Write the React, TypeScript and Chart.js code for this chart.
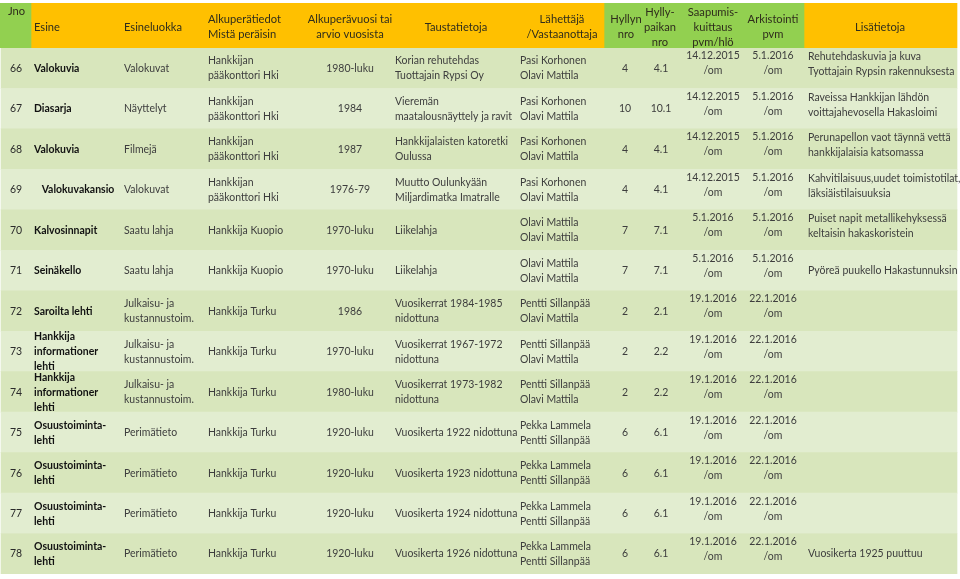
import React, { useEffect, useRef } from 'react';
import { Chart, registerables } from 'chart.js';

Chart.register(...registerables);

// ---------------- data ----------------
const headerLabels = [
  'Jno', 'Esine', 'Esineluokka', 'Alkuperätiedot\nMistä peräisin', 'Alkuperävuosi tai\narvio vuosista',
  'Taustatietoja', 'Lähettäjä\n/Vastaanottaja', 'Hyllyn\nnro', 'Hylly-\npaikan\nnro',
  'Saapumis-\nkuittaus\npvm/hlö', 'Arkistointi\npvm', 'Lisätietoja',
];

const jno = ['66', '67', '68', '69', '70', '71', '72', '73', '74', '75', '76', '77', '78'];

const esine = [
  'Valokuvia', 'Diasarja', 'Valokuvia', '   Valokuvakansio', 'Kalvosinnapit', 'Seinäkello', 'Saroilta lehti',
  'Hankkija\ninformationer\nlehti', 'Hankkija\ninformationer\nlehti',
  'Osuustoiminta-\nlehti', 'Osuustoiminta-\nlehti', 'Osuustoiminta-\nlehti', 'Osuustoiminta-\nlehti',
];

const esineluokka = [
  'Valokuvat', 'Näyttelyt', 'Filmejä', 'Valokuvat', 'Saatu lahja', 'Saatu lahja',
  'Julkaisu- ja\nkustannustoim.', 'Julkaisu- ja\nkustannustoim.', 'Julkaisu- ja\nkustannustoim.',
  'Perimätieto', 'Perimätieto', 'Perimätieto', 'Perimätieto',
];

const alkuperatiedot = [
  'Hankkijan\npääkonttori Hki', 'Hankkijan\npääkonttori Hki', 'Hankkijan\npääkonttori Hki', 'Hankkijan\npääkonttori Hki',
  'Hankkija Kuopio', 'Hankkija Kuopio',
  'Hankkija Turku', 'Hankkija Turku', 'Hankkija Turku', 'Hankkija Turku', 'Hankkija Turku', 'Hankkija Turku', 'Hankkija Turku',
];

const alkuperavuosi = [
  '1980-luku', '1984', '1987', '1976-79', '1970-luku', '1970-luku', '1986', '1970-luku', '1980-luku',
  '1920-luku', '1920-luku', '1920-luku', '1920-luku',
];

const taustatietoja = [
  'Korian rehutehdas\nTuottajain Rypsi Oy', 'Vieremän\nmaatalousnäyttely ja ravit', 'Hankkijalaisten katoretki\nOulussa',
  'Muutto Oulunkyään\nMiljardimatka Imatralle', 'Liikelahja', 'Liikelahja',
  'Vuosikerrat 1984-1985\nnidottuna', 'Vuosikerrat 1967-1972\nnidottuna', 'Vuosikerrat 1973-1982\nnidottuna',
  'Vuosikerta 1922 nidottuna', 'Vuosikerta 1923 nidottuna', 'Vuosikerta 1924 nidottuna', 'Vuosikerta 1926 nidottuna',
];

const lahettaja = [
  'Pasi Korhonen\nOlavi Mattila', 'Pasi Korhonen\nOlavi Mattila', 'Pasi Korhonen\nOlavi Mattila', 'Pasi Korhonen\nOlavi Mattila',
  'Olavi Mattila\nOlavi Mattila', 'Olavi Mattila\nOlavi Mattila',
  'Pentti Sillanpää\nOlavi Mattila', 'Pentti Sillanpää\nOlavi Mattila', 'Pentti Sillanpää\nOlavi Mattila',
  'Pekka Lammela\nPentti Sillanpää', 'Pekka Lammela\nPentti Sillanpää', 'Pekka Lammela\nPentti Sillanpää', 'Pekka Lammela\nPentti Sillanpää',
];

const hyllynNro = ['4', '10', '4', '4', '7', '7', '2', '2', '2', '6', '6', '6', '6'];
const hyllypaikanNro = ['4.1', '10.1', '4.1', '4.1', '7.1', '7.1', '2.1', '2.2', '2.2', '6.1', '6.1', '6.1', '6.1'];

const saapumiskuittaus = [
  '14.12.2015\n/om', '14.12.2015\n/om', '14.12.2015\n/om', '14.12.2015\n/om',
  '5.1.2016\n/om', '5.1.2016\n/om',
  '19.1.2016\n/om', '19.1.2016\n/om', '19.1.2016\n/om', '19.1.2016\n/om', '19.1.2016\n/om', '19.1.2016\n/om', '19.1.2016\n/om',
];

const arkistointi = [
  '5.1.2016\n/om', '5.1.2016\n/om', '5.1.2016\n/om', '5.1.2016\n/om', '5.1.2016\n/om', '5.1.2016\n/om',
  '22.1.2016\n/om', '22.1.2016\n/om', '22.1.2016\n/om', '22.1.2016\n/om', '22.1.2016\n/om', '22.1.2016\n/om', '22.1.2016\n/om',
];

const lisatietoja = [
  'Rehutehdaskuvia ja kuva\nTyottajain Rypsin rakennuksesta',
  'Raveissa Hankkijan lähdön\nvoittajahevosella Hakasloimi',
  'Perunapellon vaot täynnä vettä\nhankkijalaisia katsomassa',
  'Kahvitilaisuus,uudet toimistotilat,\nläksiäistilaisuuksia',
  'Puiset napit metallikehyksessä\nkeltaisin hakaskoristein',
  'Pyöreä puukello Hakastunnuksin',
  '', '', '', '', '', '',
  'Vuosikerta 1925 puuttuu',
];

// ---------------- layout & style ----------------
const W = 960;
const H = 579;
const FONT = 'Lato, "Noto Sans", sans-serif';
const FS = 11.5;      // body font size
const SX = 0.91;      // horizontal squeeze (Calibri-like proportions)
const HFS = 12;       // header font size
const HSX = 0.93;
const LH = 15;
const HEAD_GREEN = '#92D050';
const HEAD_ORANGE = '#FFC000';
const BAND_DARK = '#D8E6BC';
const BAND_LIGHT = '#E2EDD0';
const TXT = '#3d3d3d';
const TXT_HEAD = '#2f2d1c';
const TXT_BOLD = '#111111';

// header fill segments [from, to, colour] in x-units
const HEAD_SEGMENTS: [number, number, string][] = [
  [0, 31, HEAD_GREEN],
  [31, 604, HEAD_ORANGE],
  [604, 804, HEAD_GREEN],
  [804, 957, HEAD_ORANGE],
];
const BODY_LEFT = 1;
const BODY_RIGHT = 957;

type Col = { values: string[]; x: number; align: CanvasTextAlign; bold?: boolean; color?: string; dy?: number; hx: number; halign: CanvasTextAlign; hdy: number };
const COLS: Col[] = [
  { values: jno, x: 10, align: 'left', color: '#2a2a2a', hx: 8, halign: 'left', hdy: -14.5 },
  { values: esine, x: 34, align: 'left', bold: true, color: TXT_BOLD, hx: 34, halign: 'left', hdy: 1.5 },
  { values: esineluokka, x: 124, align: 'left', hx: 124, halign: 'left', hdy: 1.5 },
  { values: alkuperatiedot, x: 208, align: 'left', hx: 208, halign: 'left', hdy: 1.5 },
  { values: alkuperavuosi, x: 350, align: 'center', hx: 350, halign: 'center', hdy: 1.5 },
  { values: taustatietoja, x: 395, align: 'left', hx: 456, halign: 'center', hdy: 1.5 },
  { values: lahettaja, x: 520, align: 'left', hx: 562, halign: 'center', hdy: 1.5 },
  { values: hyllynNro, x: 625, align: 'center', hx: 626, halign: 'center', hdy: 1.5 },
  { values: hyllypaikanNro, x: 661, align: 'center', hx: 660, halign: 'center', hdy: 1.5 },
  { values: saapumiskuittaus, x: 713, align: 'center', dy: -5, hx: 713, halign: 'center', hdy: 1.5 },
  { values: arkistointi, x: 773, align: 'center', dy: -5, hx: 773, halign: 'center', hdy: 1.5 },
  { values: lisatietoja, x: 808, align: 'left', dy: -4, hx: 880, halign: 'center', hdy: 1.5 },
];

function drawLines(ctx: CanvasRenderingContext2D, text: string, x: number, cy: number, sx: number) {
  if (!text) return;
  const lines = text.split('\n');
  const start = cy - ((lines.length - 1) * LH) / 2;
  lines.forEach((ln, i) => {
    ctx.save();
    ctx.translate(x, start + i * LH);
    ctx.scale(sx, 1);
    ctx.fillText(ln, 0, 0);
    ctx.restore();
  });
}

const tableTextPlugin = {
  id: 'tableText',
  afterDatasetsDraw(chart: any) {
    const ctx: CanvasRenderingContext2D = chart.ctx;
    const xs = chart.scales.x;
    const yh = chart.scales.yHead;
    const yb = chart.scales.yBody;
    ctx.save();
    ctx.textBaseline = 'middle';
    // header
    const hy = yh.getPixelForValue(0);
    ctx.fillStyle = TXT_HEAD;
    ctx.font = `normal ${HFS}px ${FONT}`;
    COLS.forEach((c, i) => {
      ctx.textAlign = c.halign;
      drawLines(ctx, headerLabels[i], xs.getPixelForValue(c.hx), hy + c.hdy, HSX);
    });
    // body
    COLS.forEach((c) => {
      ctx.textAlign = c.align;
      ctx.fillStyle = c.color || TXT;
      ctx.font = `${c.bold ? 'bold' : 'normal'} ${FS}px ${FONT}`;
      c.values.forEach((txt, r) => {
        const multi = txt.indexOf('\n') >= 0;
        const dy = multi ? c.dy || 0 : 0;
        drawLines(ctx, txt, xs.getPixelForValue(c.x), yb.getPixelForValue(r) + dy, SX);
      });
    });
    ctx.restore();
  },
};

export default function App() {
  const ref = useRef<HTMLCanvasElement | null>(null);

  useEffect(() => {
    document.body.style.margin = '0';
    const canvas = ref.current;
    if (!canvas) return;

    const headDatasets = HEAD_SEGMENTS.map(([a, b, col]) => ({
      type: 'bar' as const,
      yAxisID: 'yHead',
      xAxisID: 'x',
      data: [[a, b]],
      backgroundColor: col,
      borderWidth: 0,
      grouped: false,
      barPercentage: 1,
      categoryPercentage: 1,
    }));

    const bodyDataset = {
      type: 'bar' as const,
      yAxisID: 'yBody',
      xAxisID: 'x',
      data: jno.map(() => [BODY_LEFT, BODY_RIGHT]),
      backgroundColor: jno.map((_, i) => (i % 2 === 0 ? BAND_DARK : BAND_LIGHT)),
      borderWidth: 0,
      grouped: false,
      barPercentage: 1,
      categoryPercentage: 1,
    };

    const chart = new Chart(canvas, {
      type: 'bar',
      data: {
        labels: jno,
        datasets: [bodyDataset as any, ...(headDatasets as any[])],
      },
      options: {
        indexAxis: 'y',
        responsive: false,
        animation: false,
        events: [],
        layout: { padding: { top: 3, bottom: 5, left: 0, right: 0 } },
        plugins: { legend: { display: false }, tooltip: { enabled: false }, title: { display: false } },
        scales: {
          x: { type: 'linear', min: 0, max: W, display: false, grid: { display: false } },
          yHead: {
            type: 'category', labels: ['head'], position: 'left', display: false,
            stack: 'table', stackWeight: 45, weight: 2, offset: true, grid: { display: false },
          },
          yBody: {
            type: 'category', position: 'left', display: false,
            stack: 'table', stackWeight: 526, weight: 1, offset: true, grid: { display: false },
          },
        } as any,
      },
      plugins: [tableTextPlugin],
    });

    return () => chart.destroy();
  }, []);

  return (
    <div style={{ width: W, height: H, background: '#ffffff' }}>
      <canvas ref={ref} width={W} height={H} style={{ display: 'block' }} />
    </div>
  );
}
